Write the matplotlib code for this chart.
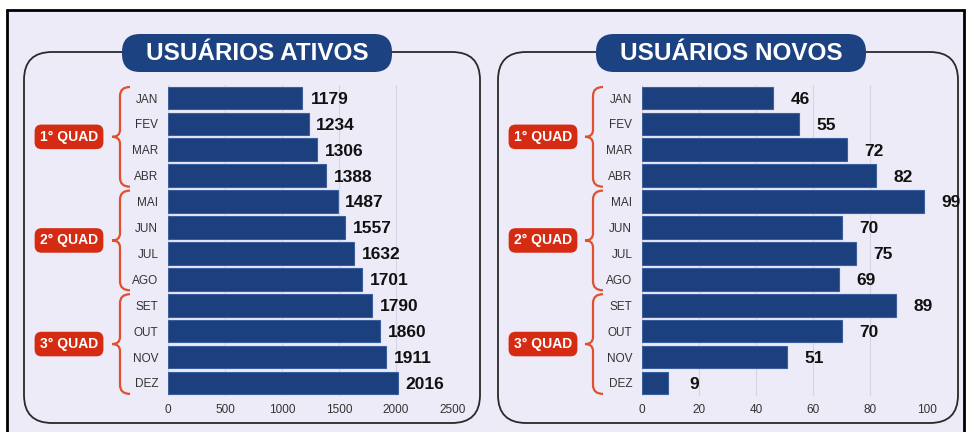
# recreate: usuarios ativos / novos, horizontal bars by month

import matplotlib
matplotlib.use("Agg")
import matplotlib.pyplot as plt
from matplotlib.patches import FancyBboxPatch, Rectangle, PathPatch
from matplotlib.path import Path

plt.rcParams["font.family"] = ["Liberation Sans", "DejaVu Sans"]

#####################################################################

# DATA

months = ["JAN", "FEV", "MAR", "ABR", "MAI", "JUN",
          "JUL", "AGO", "SET", "OUT", "NOV", "DEZ"]
ativos = [1179, 1234, 1306, 1388, 1487, 1557, 1632, 1701, 1790, 1860, 1911, 2016]
novos  = [46, 55, 72, 82, 99, 70, 75, 69, 89, 70, 51, 9]
quads  = ["1° QUAD", "2° QUAD", "3° QUAD"]

ticks_ativos = [0, 500, 1000, 1500, 2000, 2500]
ticks_novos  = [0, 20, 40, 60, 80, 100]

#####################################################################

# STYLE

W, H    = 967, 432
BG      = "#ecebf7"
BAR     = "#1c3f7d"
BAREDGE = "#3a5f9e"
RED     = "#d52b12"
BRACE   = "#e0502f"

def fx(x): return x / W
def fy(y): return 1 - y / H

fig = plt.figure(figsize=(W / 100, H / 100), dpi=100)
fig.patch.set_facecolor("white")

# screenshot-like frame (behind everything)
fig.patches.append(Rectangle((fx(7), fy(445)), fx(957), 435 / H,
    transform=fig.transFigure, facecolor=BG, edgecolor="black",
    linewidth=2, zorder=-10))

ROW0, ROWD = 98.0, 25.9   # row centers in pixels (from top)

def brace(xr, xs, xt, top, bot):
    mid = (top + bot) / 2
    pts = [(xr, top), (xs, top), (xs, top + 9),
           (xs, mid - 7),
           (xs, mid), (xt, mid),
           (xs, mid), (xs, mid + 7),
           (xs, bot - 9),
           (xs, bot), (xr, bot)]
    codes = [Path.MOVETO, Path.CURVE3, Path.CURVE3,
             Path.LINETO,
             Path.CURVE3, Path.CURVE3,
             Path.CURVE3, Path.CURVE3,
             Path.LINETO,
             Path.CURVE3, Path.CURVE3]
    p = Path([(fx(a), fy(b)) for a, b in pts], codes)
    fig.patches.append(PathPatch(p, transform=fig.transFigure,
        facecolor="none", edgecolor=BRACE, linewidth=1.6))

def panel(x0, x1, ax0, ax1, title, values, ticks, badge_x, brace_x):

    # rounded frame
    fig.patches.append(FancyBboxPatch((fx(x0 + 28), fy(423 - 28)),
        fx(x1 - x0 - 56), (423 - 52 - 56) / H,
        boxstyle=f"round,pad={28 / W}", mutation_aspect=W / H,
        transform=fig.transFigure, facecolor="none",
        edgecolor="#2a2a2a", linewidth=1.3, zorder=-5))

    # title pill
    cx = x0 + 233
    fig.patches.append(FancyBboxPatch((fx(cx - 117), fy(53 + 1)),
        fx(234), 2 / H,
        boxstyle=f"round,pad={18 / W}", mutation_aspect=W / H,
        transform=fig.transFigure, facecolor="#1c4282",
        edgecolor="none", zorder=3))
    fig.text(fx(cx), fy(53), title, ha="center", va="center",
             color="white", fontsize=17.5, fontweight="bold", zorder=4)

    # bar axes
    top = ROW0 - ROWD / 2
    bot = ROW0 + ROWD * 11.5
    ax = fig.add_axes([fx(ax0), fy(bot), fx(ax1 - ax0), (bot - top) / H])
    ax.set_facecolor("none")
    y = range(len(months))
    ax.barh(y, values, height=0.88, color=BAR, edgecolor=BAREDGE,
            linewidth=0.8, zorder=2)
    ax.set_ylim(len(months) - 0.5, -0.5)
    ax.set_xlim(ticks[0], ticks[-1])
    ax.set_xticks(ticks)
    ax.set_yticks(list(y))
    ax.set_yticklabels(months)
    for s in ax.spines.values():
        s.set_visible(False)
    ax.tick_params(axis="both", length=0, labelsize=8.5, colors="#333333")
    ax.tick_params(axis="y", pad=7)
    ax.tick_params(axis="x", pad=6)
    ax.grid(axis="x", color="#d6d6e2", linewidth=0.8, zorder=0)
    ax.set_axisbelow(True)

    # value labels, centred ~27 px right of bar end
    for i, v in enumerate(values):
        ax.annotate(f"{v}", (v, i), xytext=(27 * 0.72, -1),
                    textcoords="offset points", ha="center", va="center",
                    fontsize=12.5, fontweight="bold", color="#111111",
                    annotation_clip=False)

    # quarter braces and badges
    for g, q in enumerate(quads):
        t = ROW0 + ROWD * (4 * g) - 11
        b = ROW0 + ROWD * (4 * g + 3) + 11
        brace(brace_x + 10, brace_x, brace_x - 8, t, b)
        fig.text(fx(badge_x), fy((t + b) / 2), q, ha="center", va="center",
                 color="white", fontsize=10, fontweight="bold",
                 bbox=dict(boxstyle="round,pad=0.38,rounding_size=0.5",
                           facecolor=RED, edgecolor="none"))
    return ax

panel(24, 480, 168, 453, "USUÁRIOS ATIVOS", ativos, ticks_ativos, 69, 120)
panel(498, 958, 642, 927, "USUÁRIOS NOVOS", novos, ticks_novos, 543, 593)

fig.savefig("out.png", dpi=100, facecolor=fig.get_facecolor())
